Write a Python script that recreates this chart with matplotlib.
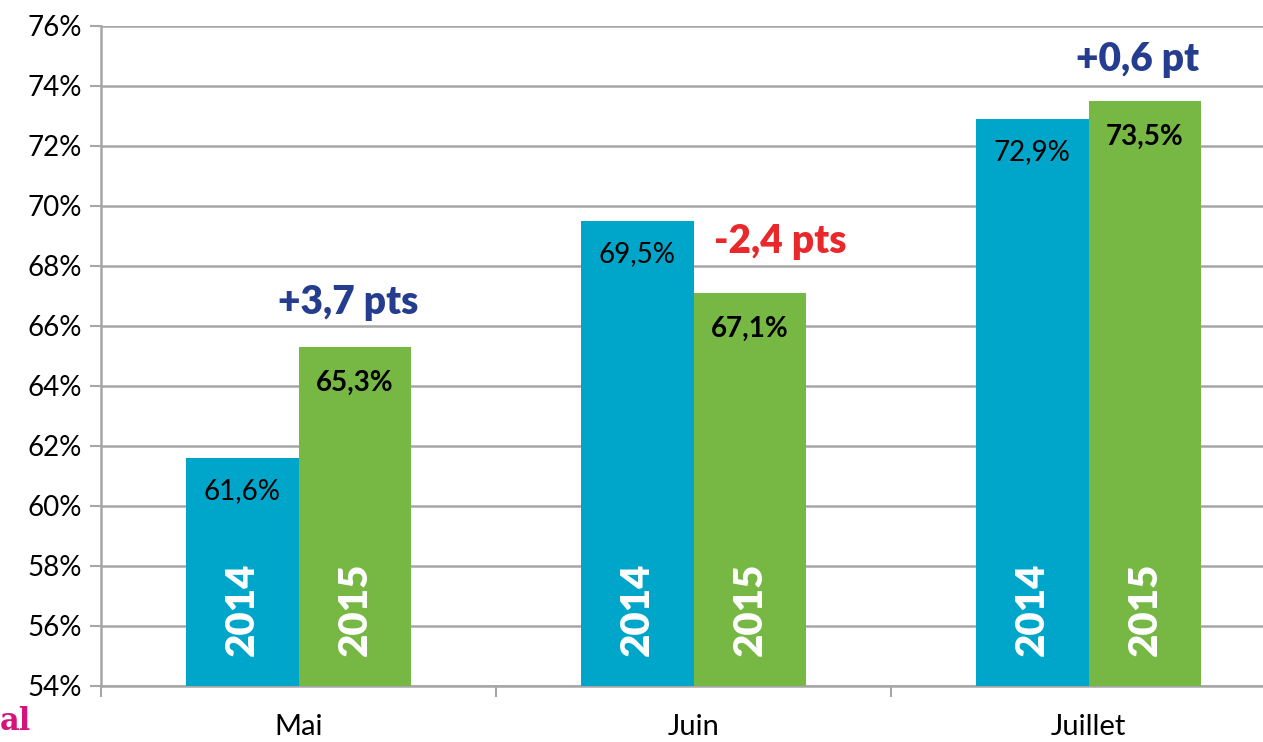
import matplotlib
matplotlib.use("Agg")
import matplotlib.pyplot as plt
import numpy as np

months = ["Mai", "Juin", "Juillet"]
years = ["2014", "2015"]
vals_2014 = [61.6, 69.5, 72.9]
vals_2015 = [65.3, 67.1, 73.5]
diff_units = ["pts", "pts", "pt"]
yticks = list(range(54, 77, 2))

BLUE = "#00A6CA"
GREEN = "#76B843"
NAVY = "#253D8E"
RED = "#E8282B"
GRID = "#A6A6A6"

plt.rcParams['font.family'] = ['Lato', 'DejaVu Sans']

fig = plt.figure(figsize=(12.63, 7.42), dpi=100)
ax = fig.add_axes([101/1263, 56/742, 1185/1263, 660/742])

x = np.arange(len(months))
w = 0.286
ax.bar(x - w/2, vals_2014, w, color=BLUE, zorder=3)
ax.bar(x + w/2, vals_2015, w, color=GREEN, zorder=3)

ax.set_ylim(54, 76)
ax.set_xlim(-0.5, 2.5)
ax.set_yticks(yticks)
ax.set_yticklabels([f"{t}%" for t in yticks], fontsize=20)
ax.yaxis.grid(True, color=GRID, linewidth=1.8, zorder=0)
ax.set_axisbelow(True)

ax.set_xticks([-0.5, 0.5, 1.5, 2.5])
ax.set_xticklabels([])
ax.set_xticks(x, minor=True)
ax.set_xticklabels(months, minor=True, fontsize=21)
ax.tick_params(axis='x', which='minor', length=0, pad=20)
ax.tick_params(axis='x', which='major', length=8, width=1.5, color=GRID)
ax.tick_params(axis='y', length=8, width=1.5, color=GRID, pad=6)

for s in ["top", "right"]:
    ax.spines[s].set_visible(False)
for s in ["left", "bottom"]:
    ax.spines[s].set_color(GRID)
    ax.spines[s].set_linewidth(1.8)

def fmt(v):
    return f"{v:.1f}".replace(".", ",") + "%"

for xi, v in zip(x - w/2, vals_2014):
    ax.annotate(fmt(v), (xi, v), xytext=(0, -33), textcoords='offset pixels',
                ha='center', va='center', fontsize=20, color='black', zorder=4)
for xi, v in zip(x + w/2, vals_2015):
    ax.annotate(fmt(v), (xi, v), xytext=(0, -36), textcoords='offset pixels',
                ha='center', va='center', fontsize=20, fontweight='bold', color='black', zorder=4)

for xs, yr in [(x - w/2, years[0]), (x + w/2, years[1])]:
    for xi in xs:
        ax.annotate(yr, (xi, 54), xytext=(0, 30), textcoords='offset pixels',
                    ha='center', va='bottom', rotation=90, fontsize=29,
                    fontweight='heavy', color='white', zorder=4)

diff_pos = [(0.125, 66.77), (1.219, 68.8), (2.125, 74.87)]
for (dx, dy), a, b, u in zip(diff_pos, vals_2014, vals_2015, diff_units):
    d = b - a
    s = ("+" if d > 0 else "-") + f"{abs(d):.1f}".replace(".", ",") + " " + u
    ax.text(dx, dy, s, ha='center', va='center', fontsize=28, fontweight='heavy',
            color=NAVY if d > 0 else RED, zorder=4)

fig.text(0.0, 0.028, "al", ha='left', va='center', fontsize=22, fontweight='bold',
         color="#D4147A", family=['DejaVu Serif'])

fig.savefig("out.png", dpi=100)
